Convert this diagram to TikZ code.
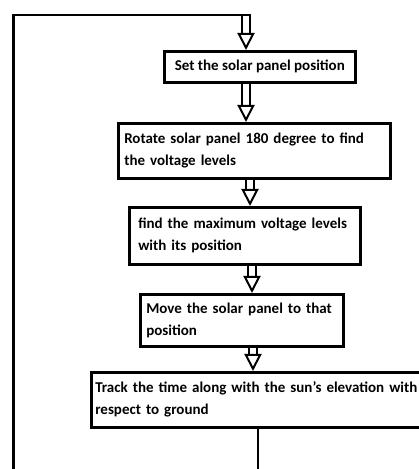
\documentclass[tikz,border=0pt]{standalone}
\usepackage{fontspec}
\setmainfont{Carlito}
\usetikzlibrary{arrows.meta}

\begin{document}
\begin{tikzpicture}[x=1pt,y=1pt,
		stepbox/.style={draw, line width=2.6pt, anchor=north west, align=left,
			font=\bfseries\fontsize{15}{22}\selectfont},
		hollow/.style={double, double distance=5.5pt, line width=2pt,
			-{Triangle[open, length=17pt, width=17pt, line width=2pt]}},
		loopline/.style={line width=2.6pt}]
	\useasboundingbox (0,0) rectangle (419,469);
	% boxes
	\node[stepbox, minimum width=191pt, minimum height=31pt, align=center] (b1) at (163,419)
		{Set the solar panel position};
	\node[stepbox, minimum height=55pt, text width=260pt, inner xsep=6pt] (b2) at (117,347)
		{Rotate solar panel 180 degree to find\\the voltage levels};
	\node[stepbox, minimum height=57pt, text width=213pt, inner xsep=9pt] (b3) at (128,263)
		{find the maximum voltage levels\\with its position};
	\node[stepbox, minimum height=52pt, text width=191pt, inner xsep=6pt] (b4) at (139,176)
		{Move the solar panel to that\\position};
	\node[stepbox, minimum height=55pt, text width=340pt, inner xsep=4pt] (b5) at (90,98)
		{Track the time along with the sun's elevation with\\respect to ground};
	% hollow arrows
	\coordinate (top) at (246,454);
	\draw[hollow] (top) -- (b1.north -| top);
	\foreach \a/\b/\xx in {b1/b2/246,b2/b3/250,b3/b4/252,b4/b5/253}{
		\draw[hollow] (\a.south -| \xx,0) -- (\b.north -| \xx,0);
	}
	% feedback loop
	\draw[loopline] (b5.south -| 258,0) -- ++(0,-60) -| (13.5,454) -- ([xshift=5pt]top);
\end{tikzpicture}
\end{document}
